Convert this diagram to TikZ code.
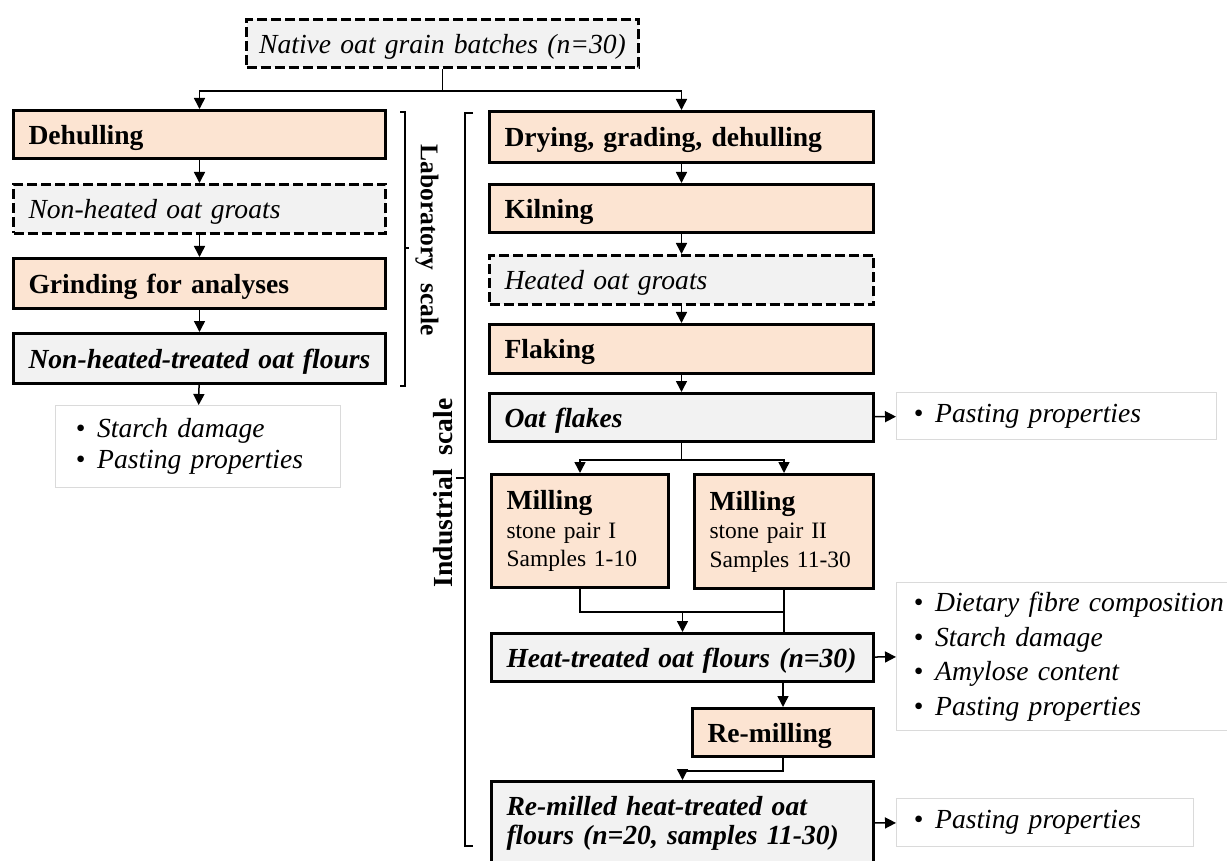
\documentclass[tikz,border=0pt]{standalone}
\usepackage{fontspec}
\setmainfont{Liberation Serif}
\usetikzlibrary{arrows.meta}
\definecolor{peach}{HTML}{FCE4D2}
\definecolor{paper}{HTML}{F2F2F2}
\definecolor{frame}{HTML}{DADADA}

\begin{document}
\begin{tikzpicture}[x=1pt,y=-1pt]
\tikzstyle{every node}=[anchor=north west, inner xsep=15pt, inner ysep=0pt, align=left]
\tikzstyle{stepbox}=[draw, line width=3pt, fill=peach, text depth=0pt, font=\fontsize{27.6}{28.5}\selectfont\bfseries]
\tikzstyle{stuff}=[draw, line width=3pt, fill=paper, text depth=0pt, font=\fontsize{27.6}{28.5}\selectfont\bfseries\itshape]
\tikzstyle{interim}=[draw, line width=3pt, dash pattern=on 10pt off 4pt, fill=paper, text depth=0pt, font=\fontsize{27.6}{28.5}\selectfont\itshape]
\tikzstyle{result}=[draw=frame, line width=1pt, fill=white, inner xsep=17pt, font=\fontsize{27.6}{34.5}\selectfont\itshape]
\tikzstyle{arr}=[line width=1.5pt, -{Triangle[length=11pt,width=11pt]}]
\tikzstyle{brace}=[line width=1.5pt]
\useasboundingbox (0,0) rectangle (1227,861);

\node[interim, inner xsep=4pt, text width=384pt, align=center, minimum height=48pt] (batches) at (245,18) {Native oat grain batches (n=30)};

% laboratory scale
\node[stepbox, text width=342pt, minimum height=48pt] (dehull) at (12,109) {Dehulling};
\node[interim, text width=342pt, minimum height=49pt] (rawgroats) at (12,183) {Non-heated oat groats};
\node[stepbox, text width=342pt, minimum height=50pt] (grind) at (12,257) {Grinding for analyses};
\node[stuff, text width=342pt, minimum height=50pt] (rawflour) at (12,332) {Non-heated-treated oat flours};
\node[result, inner xsep=20pt, text width=245pt, minimum height=82pt, font=\fontsize{27.6}{31}\selectfont\itshape] (rawres) at (55,405)
  {\textbullet\hspace{12pt}Starch damage\\\textbullet\hspace{12pt}Pasting properties};

% industrial scale
\node[stepbox, text width=354pt, minimum height=51pt] (dry) at (488,110) {Drying, grading, dehulling};
\node[stepbox, text width=354pt, minimum height=48pt] (kiln) at (488,183) {Kilning};
\node[interim, text width=354pt, minimum height=49pt] (heatgroats) at (488,254) {Heated oat groats};
\node[stepbox, text width=354pt, minimum height=49pt] (flake) at (488,323) {Flaking};
\node[stuff, text width=354pt, minimum height=48pt] (flakes) at (488,392) {Oat flakes};
\node[stepbox, text depth=, font=\fontsize{23.5}{28.5}\selectfont, text width=147pt, minimum height=113pt] (mill1) at (490,473)
  {{\fontsize{27.6}{28.5}\selectfont\bfseries Milling}\\stone pair I\\Samples 1-10};
\node[stepbox, text depth=, font=\fontsize{23.5}{28.5}\selectfont, text width=149pt, minimum height=114pt] (mill2) at (693,473)
  {{\fontsize{27.6}{28.5}\selectfont\bfseries Milling}\\stone pair II\\Samples 11-30};
\node[stuff, text width=352pt, minimum height=48pt] (heatflour) at (490,632) {Heat-treated oat flours (n=30)};
\node[stepbox, text width=151pt, minimum height=48pt] (remill) at (691,707) {Re-milling};
\node[stuff, text depth=, text width=352pt, minimum height=84pt] (remilled) at (490,780)
  {Re-milled heat-treated oat\\flours (n=20, samples 11-30)};

\node[result, text width=286pt, minimum height=47pt] (flakesres) at (896,392) {\textbullet\hspace{12pt}Pasting properties};
\node[result, text width=311pt, minimum height=148pt] (flourres) at (896,582)
  {\textbullet\hspace{12pt}Dietary fibre composition\\\textbullet\hspace{12pt}Starch damage\\
   \textbullet\hspace{12pt}Amylose content\\\textbullet\hspace{12pt}Pasting properties};
\node[result, text width=263pt, minimum height=48pt] (remilledres) at (896,798) {\textbullet\hspace{12pt}Pasting properties};

% brackets
\draw[brace] (400,112) -- (405,112) -- (405,386) -- (400,386);
\draw[brace] (405,248) -- (409,248);
\node[anchor=center, inner sep=0pt, rotate=-90, font=\fontsize{25.5}{28.5}\selectfont\bfseries] (labscale) at (427,240) {Laboratory\ \ scale};
\draw[brace] (473,113) -- (465,113) -- (465,846) -- (473,846);
\draw[brace] (465,478) -- (456,478);
\node[anchor=center, inner sep=0pt, rotate=90, font=\fontsize{27.6}{28.5}\selectfont\bfseries] (indscale) at (443,493) {Industrial\ \ scale};

% connectors
\draw[line width=1.5pt] (batches.south) -- ++(0,22) coordinate (fork);
\draw[arr] (fork) -| (dehull.north);
\draw[arr] (fork) -| (dry.north);
\draw[arr] (dehull) -- (rawgroats);
\draw[arr] (rawgroats) -- (grind);
\draw[arr] (grind) -- (rawflour);
\draw[arr] (rawflour) -- (rawres);
\draw[arr] (dry) -- (kiln);
\draw[arr] (kiln) -- (heatgroats);
\draw[arr] (heatgroats) -- (flake);
\draw[arr] (flake) -- (flakes);
\draw[line width=1.5pt] (flakes.south) -- ++(0,17) coordinate (split);
\draw[arr] (split) -| (mill1.north);
\draw[arr] (split) -| (mill2.north);
\draw[line width=1.5pt] (mill1.south) -- ++(0,23) coordinate (join) -| (mill2.south);
\draw[line width=1.5pt] (mill2.south) -- (mill2.south |- heatflour.north);
\draw[arr] (join -| heatflour.north) -- (heatflour.north);
\draw[arr] (remill.north |- heatflour.south) -- (remill.north);
\draw[arr] (remill.south) -- ++(0,13) -| (remilled.north);
\draw[arr] (flakes) -- (flakesres);
\draw[arr] (heatflour) -- (flourres);
\draw[arr] (remilled) -- (remilledres);
\end{tikzpicture}
\end{document}
